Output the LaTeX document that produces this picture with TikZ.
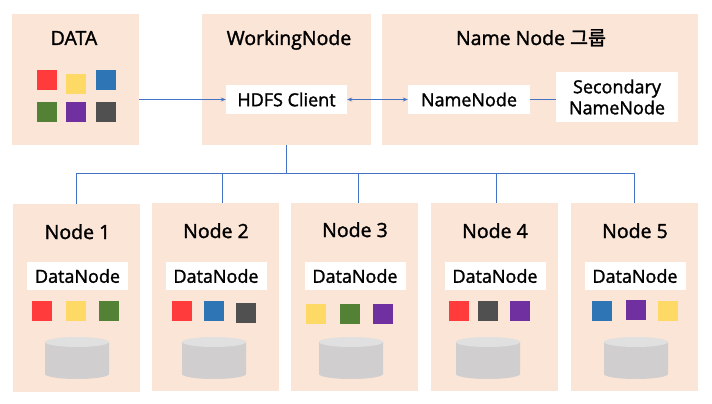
\documentclass[tikz,border=0pt]{standalone}
\usepackage{fontspec}
\setmainfont{Open Sans}[FakeBold=1.6]
\newfontfamily\krfont{Noto Sans CJK KR}[FakeBold=1.6]
\usepackage{tikz}
\usetikzlibrary{arrows.meta}

\definecolor{boxfill}{HTML}{FBE5D6}
\definecolor{linkblue}{HTML}{4472C4}
\definecolor{bred}{HTML}{FF3B3B}
\definecolor{byellow}{HTML}{FFD966}
\definecolor{bblue}{HTML}{2E75B6}
\definecolor{bgreen}{HTML}{538135}
\definecolor{bpurple}{HTML}{7030A0}
\definecolor{bgray}{HTML}{505050}
\definecolor{diskbody}{HTML}{D0CECE}
\definecolor{disktop}{HTML}{E0E0E0}

\begin{document}
\begin{tikzpicture}[x=1pt,y=1pt,
  group/.style={fill=boxfill, inner sep=0pt},
  title/.style={anchor=base, font=\fontsize{19.5}{22}\selectfont},
  label/.style={fill=white, inner sep=0pt, align=center, font=\fontsize{18}{21}\selectfont},
  blk/.style={minimum size=20pt, inner sep=0pt},
  link/.style={draw=linkblue, line width=0.8pt},
  disk/.pic={
    \fill[diskbody] (-32,0) -- (-32,-32) arc[start angle=180, end angle=360, x radius=32, y radius=5] -- (32,0) -- cycle;
    \fill[disktop] (0,0) ellipse[x radius=32, y radius=5];
  }]

\useasboundingbox (0,0) rectangle (712,-404);

% ---------------- TOP GROUPS ----------------

\node[group, minimum width=127, minimum height=131] (DATA) at (75.5,-79.5) {};
\node[group, minimum width=169, minimum height=131] (WN) at (286.5,-79.5) {};
\node[group, minimum width=316, minimum height=131] (NG) at (540,-79.5) {};

\node[title] (tDATA) at (74,-45) {DATA};
\node[title] (tWN) at (289,-45) {WorkingNode};
\node[title] (tNG) at (531,-45) {Name Node {\krfont 그룹}};

\node[blk, fill=bred] (d1) at (46.5,-80) {};
\node[blk, fill=byellow] (d2) at (75.5,-84) {};
\node[blk, fill=bblue] (d3) at (105.5,-80) {};
\node[blk, fill=bgreen] (d4) at (46.5,-112) {};
\node[blk, fill=bpurple] (d5) at (75.5,-112) {};
\node[blk, fill=bgray] (d6) at (105.5,-112) {};

\node[label, minimum width=121, minimum height=29] (HC) at (286.5,-99.5) {HDFS Client};
\node[label, minimum width=122, minimum height=29] (NN) at (469,-99.5) {NameNode};
\node[label, minimum width=122, minimum height=50] (SNN) at (617,-97) {Secondary\\NameNode};

\draw[link, -{Stealth[length=5pt, width=4pt]}] (DATA.east |- HC) -- (HC.west);
\draw[link, {Stealth[length=5pt, width=4pt]}-{Stealth[length=5pt, width=4pt]}] (HC.east) -- (NN.west);
\draw[link] (NN.east) -- (NN.east -| SNN.west);

% ---------------- DATA NODES ----------------

\node[group, minimum width=127, minimum height=188] (N1) at (76.5,-298) {};
\node[group, minimum width=127, minimum height=188] (N2) at (215.5,-297) {};
\node[group, minimum width=127, minimum height=188] (N3) at (354.5,-297) {};
\node[group, minimum width=127, minimum height=188] (N4) at (494.5,-297) {};
\node[group, minimum width=127, minimum height=188] (N5) at (634.5,-297) {};

\node[title] (tN1) at (77.5,-239) {Node 1};
\node[title] (tN2) at (216,-238) {Node 2};
\node[title] (tN3) at (355,-237) {Node 3};
\node[title] (tN4) at (495,-238) {Node 4};
\node[title] (tN5) at (635,-238) {Node 5};

\node[label, minimum width=101, minimum height=28] (DN1) at (77.5,-276) {DataNode};
\node[label, minimum width=101, minimum height=28] (DN2) at (216,-276) {DataNode};
\node[label, minimum width=101, minimum height=28] (DN3) at (355,-276) {DataNode};
\node[label, minimum width=101, minimum height=28] (DN4) at (495,-276) {DataNode};
\node[label, minimum width=101, minimum height=28] (DN5) at (635,-276) {DataNode};

\node[blk, fill=bred] (a1) at (41.5,-311) {};
\node[blk, fill=byellow] (a2) at (76,-311) {};
\node[blk, fill=bgreen] (a3) at (108.5,-311) {};

\node[blk, fill=bred] (b1) at (182,-311) {};
\node[blk, fill=bblue] (b2) at (214,-311) {};
\node[blk, fill=bgray] (b3) at (246,-313) {};

\node[blk, fill=byellow] (c1) at (316,-314) {};
\node[blk, fill=bgreen] (c2) at (350,-314) {};
\node[blk, fill=bpurple] (c3) at (383,-314) {};

\node[blk, fill=bred] (e1) at (459,-311) {};
\node[blk, fill=bgray] (e2) at (488,-311) {};
\node[blk, fill=bpurple] (e3) at (520,-311) {};

\node[blk, fill=bblue] (f1) at (602,-311) {};
\node[blk, fill=bpurple] (f2) at (636,-310) {};
\node[blk, fill=byellow] (f3) at (668,-311) {};

\pic at (77,-342) {disk};
\pic at (214,-342) {disk};
\pic at (351,-342) {disk};
\pic at (488,-342) {disk};
\pic at (636,-342) {disk};

% ---------------- CONNECTIONS ----------------

\draw[link] (WN.south) -- ++(0,-28) coordinate (bus);
\draw[link] (bus) -| (N1.north);
\draw[link] (bus) -| ([xshift=7]N2.north);
\draw[link] (bus) -| ([xshift=3.5]N3.north);
\draw[link] (bus) -| ([xshift=1.5]N4.north);
\draw[link] (bus) -| (N5.north);

\end{tikzpicture}
\end{document}
